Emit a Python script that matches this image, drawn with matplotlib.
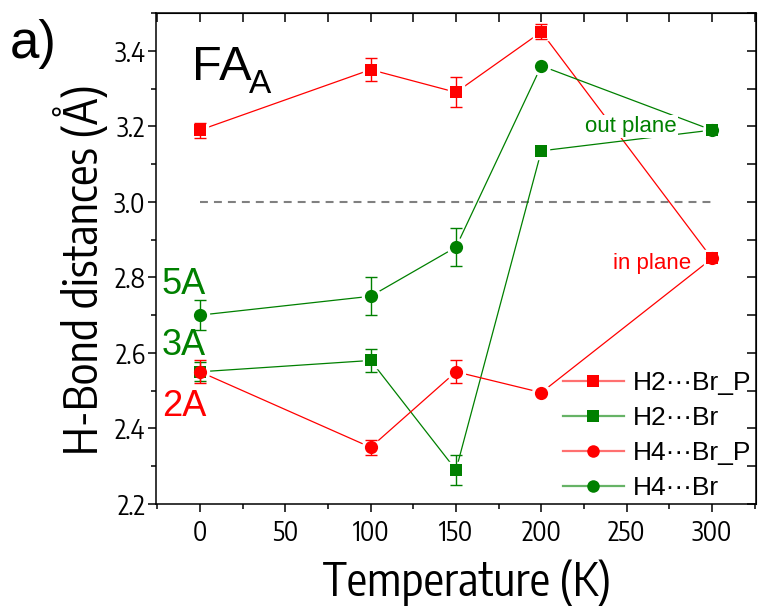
import matplotlib
matplotlib.use("Agg")
import matplotlib.pyplot as plt
from matplotlib.lines import Line2D
from matplotlib.ticker import MultipleLocator, FormatStrFormatter
import numpy as np

# ---- data -------------------------------------------------------------
temperature = [0, 100, 150, 200, 300]

h2_br_p = [3.19, 3.35, 3.29, 3.45, 2.85]
h2_br_p_err = [0.02, 0.03, 0.04, 0.02, 0.0]

h2_br = [2.55, 2.58, 2.29, 3.135, 3.19]
h2_br_err = [0.025, 0.03, 0.04, 0.0, 0.0]

h4_br_p = [2.55, 2.35, 2.55, 2.495, 2.85]
h4_br_p_err = [0.03, 0.02, 0.03, 0.0, 0.0]

h4_br = [2.70, 2.75, 2.88, 3.36, 3.19]
h4_br_err = [0.04, 0.05, 0.05, 0.0, 0.0]

labels = ["H2\u00b7\u00b7\u00b7Br_P", "H2\u00b7\u00b7\u00b7Br",
          "H4\u00b7\u00b7\u00b7Br_P", "H4\u00b7\u00b7\u00b7Br"]
threshold = 3.0

RED = "#ff0000"
GREEN = "#008000"
RED_LIGHT = "#ff7070"
GREEN_LIGHT = "#66b366"

NARROW = ["Encode Sans Condensed", "DejaVu Sans"]
SANS = ["Liberation Sans", "DejaVu Sans"]

series = [
    (labels[0], h2_br_p, h2_br_p_err, RED, RED_LIGHT, "s", 8.5),
    (labels[1], h2_br, h2_br_err, GREEN, GREEN_LIGHT, "s", 8.5),
    (labels[2], h4_br_p, h4_br_p_err, RED, RED_LIGHT, "o", 9.5),
    (labels[3], h4_br, h4_br_err, GREEN, GREEN_LIGHT, "o", 9.5),
]

# ---- figure -----------------------------------------------------------
fig = plt.figure(figsize=(7.6, 6.1), dpi=100)
ax = fig.add_axes([0.2059, 0.1738, 0.7893, 0.8049])
ax.set_xlim(-25.5, 326)
ax.set_ylim(2.2, 3.5)

# reference line at 3.0 A
ax.plot([temperature[0], temperature[-1]], [threshold, threshold],
        color="#808080", lw=1.5, linestyle=(0, (3.8, 2.9)), zorder=1)

handles = []
for name, vals, errs, col, light, mk, ms in series:
    x = np.array(temperature, dtype=float)
    y = np.array(vals, dtype=float)
    e = np.array(errs, dtype=float)
    ax.plot(x, y, color=col, lw=0.9, zorder=2)
    # white halo so connecting lines stop short of the symbols
    ax.plot(x, y, ls="none", marker=mk, ms=ms + 3.5, mfc="white",
            mec="white", zorder=3)
    m = e > 0
    ax.errorbar(x[m], y[m], yerr=e[m], fmt="none", ecolor=col,
                elinewidth=1.0, capsize=4, capthick=1.0, zorder=4)
    ax.plot(x, y, ls="none", marker=mk, ms=ms, mfc=col, mec=col,
            mew=0, zorder=5)
    handles.append((Line2D([], [], color=light, lw=1.6),
                    Line2D([], [], ls="none", marker=mk, ms=ms * 0.95,
                           mfc=col, mec=col, mew=0)))

# ---- axes styling -----------------------------------------------------
for sp in ax.spines.values():
    sp.set_linewidth(1.1)

ax.xaxis.set_major_locator(MultipleLocator(50))
ax.xaxis.set_minor_locator(MultipleLocator(25))
ax.yaxis.set_major_locator(MultipleLocator(0.2))
ax.yaxis.set_minor_locator(MultipleLocator(0.1))
ax.yaxis.set_major_formatter(FormatStrFormatter("%.1f"))

ax.tick_params(axis="both", which="major", direction="out", length=6,
               width=1.1, labelsize=19)
ax.tick_params(axis="both", which="minor", direction="out", length=3.5,
               width=1.1)
ax.tick_params(axis="x", which="major", pad=4.5)
ax.tick_params(axis="y", which="major", pad=2)
for lab in ax.get_xticklabels() + ax.get_yticklabels():
    lab.set_family(NARROW)

top = ax.secondary_xaxis("top")
top.xaxis.set_major_locator(MultipleLocator(25))
top.tick_params(direction="in", length=6.5, width=1.1, labeltop=False)
right = ax.secondary_yaxis("right")
right.yaxis.set_major_locator(MultipleLocator(0.1))
right.tick_params(direction="in", length=6.5, width=1.1, labelright=False)

ax.set_xlabel("Temperature (K)", fontsize=33, family=NARROW)
ax.set_ylabel("H-Bond distances (\u00c5)", fontsize=33, family=NARROW)
ax.xaxis.label.set_va("center")
ax.yaxis.label.set_va("center")
ax.xaxis.set_label_coords(0.5176, -0.161)
ax.yaxis.set_label_coords(-0.1275, 0.477)

# ---- annotations ------------------------------------------------------
fig.text(10 / 760, 1 - 58 / 610, "a)", fontsize=38, family=SANS,
         va="baseline", ha="left")
ax.text(-4.7, 3.323, "FA", fontsize=35, family=SANS, va="baseline")
ax.text(28.5, 3.287, "A", fontsize=24, family=SANS, va="baseline")

ax.text(-22.3, 2.756, "5A", fontsize=26, family=SANS, color=GREEN,
        va="baseline")
ax.text(-22.3, 2.595, "3A", fontsize=26, family=SANS, color=GREEN,
        va="baseline")
ax.text(-22.3, 2.433, "2A", fontsize=26, family=SANS, color=RED,
        va="baseline")

ax.text(252.4, 3.184, "out plane", fontsize=16, family=SANS, color=GREEN,
        ha="center", va="baseline", zorder=6,
        bbox=dict(boxstyle="square,pad=0.05", fc="white", ec="none"))
ax.text(287.5, 2.822, "in plane", fontsize=16, family=SANS, color=RED,
        ha="right", va="baseline", zorder=6)

leg = ax.legend(handles, labels, loc="upper left",
                bbox_to_anchor=(563 / 760, 1 - 371 / 610),
                bbox_transform=fig.transFigure, frameon=False,
                prop=dict(family=SANS, size=19), handlelength=2.3,
                handletextpad=0.35, labelspacing=0.42, borderpad=0,
                borderaxespad=0)

fig.savefig("out.png", dpi=100)
